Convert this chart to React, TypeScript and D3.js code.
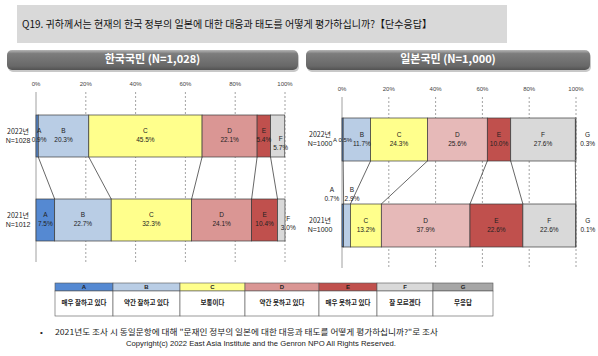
import React from 'react';
import * as d3 from 'd3';

const categories = ['A', 'B', 'C', 'D', 'E', 'F', 'G'];
const categoryLabels = ['매우 잘하고 있다', '약간 잘하고 있다', '보통이다', '약간 못하고 있다', '매우 못하고 있다', '잘 모르겠다', '무응답'];
const rowYears = ['2022년', '2021년'];
const koreaN = ['N=1028', 'N=1012'];
const korea2022 = [0.9, 20.3, 45.5, 22.1, 5.4, 5.7];
const korea2021 = [7.5, 22.7, 32.3, 24.1, 10.4, 3.0];
const japanN = ['N=1000', 'N=1000'];
const japan2022 = [0.5, 11.7, 24.3, 25.6, 10.0, 27.6, 0.3];
const japan2021 = [0.7, 2.9, 13.2, 37.9, 22.6, 22.6, 0.1];
const tickValues = [0, 20, 40, 60, 80, 100];
const titleText = 'Q19. 귀하께서는 현재의 한국 정부의 일본에 대한 대응과 태도를 어떻게 평가하십니까?【단수응답】';
const koreaTitle = '한국국민 (N=1,028)';
const japanTitle = '일본국민 (N=1,000)';
const footnote = '2021년도 조사 시 동일문항에 대해 "문재인 정부의 일본에 대한 대응과 태도를 어떻게 평가하십니까?"로 조사';
const copyright = 'Copyright(c) 2022 East Asia Institute and the Genron NPO All Rights Reserved.';

const FONT = '"Liberation Sans", Arial, "Noto Sans CJK KR", sans-serif';
const KFONT = '"Noto Sans CJK KR", "Liberation Sans", sans-serif';

const colorsKorea = ['#5589d2', '#b9cde5', '#ffff8c', '#da9694', '#c0504d', '#d9d9d9', '#a6a6a6'];
const colorsJapan = ['#5589d2', '#b9cde5', '#ffff8c', '#e6b9b8', '#c0504d', '#d9d9d9', '#a6a6a6'];

type LabelPos = { dx?: number; dy?: number; inline?: boolean; size?: number };

type PanelProps = {
  rows: number[][];
  ns: string[];
  x0: number;
  x1: number;
  tickY: number;
  gridTop: number;
  gridBottom: number;
  barY: number[];
  barH: number;
  yearX: number;
  colors: string[];
  special: Record<string, LabelPos>;
};

function Panel(p: PanelProps) {
  const x = d3.scaleLinear().domain([0, 100]).range([p.x0, p.x1]);
  const stacks = p.rows.map((vals) => {
    let acc = 0;
    return vals.map((v, i) => {
      const s = acc;
      acc += v;
      return { i, v, s, e: acc };
    });
  });
  const nCat = p.rows[0].length;
  return (
    <g>
      {tickValues.map((t) => (
        <g key={t}>
          <text x={x(t)} y={p.tickY} fontSize={6} fill="#444" textAnchor="middle" fontFamily={FONT} dominantBaseline="middle">{t}%</text>
          {t === 0 ? (
            <line x1={x(t)} x2={x(t)} y1={p.gridTop} y2={p.gridBottom} stroke="#a0a0a0" strokeWidth={1} />
          ) : (
            <line x1={x(t)} x2={x(t)} y1={p.gridTop} y2={p.gridBottom} stroke="#8c8c8c" strokeWidth={0.8} strokeDasharray="2,2" />
          )}
        </g>
      ))}
      {d3.range(nCat - 1).map((i) => (
        <line key={'c' + i} x1={x(stacks[0][i].e)} y1={p.barY[0] + p.barH} x2={x(stacks[1][i].e)} y2={p.barY[1]} stroke="#404040" strokeWidth={0.8} />
      ))}
      {stacks.map((row, r) => (
        <g key={'r' + r}>
          {row.map((seg) => (
            <rect key={seg.i} x={x(seg.s)} y={p.barY[r]} width={Math.max(0, x(seg.e) - x(seg.s))} height={p.barH} fill={p.colors[seg.i]} stroke="#3a3a3a" strokeWidth={0.7} />
          ))}
          <text x={p.yearX} y={p.barY[r] + p.barH / 2 - 4} fontSize={7} fill="#222" textAnchor="middle" fontFamily={KFONT} dominantBaseline="middle">{rowYears[r]}</text>
          <text x={p.yearX} y={p.barY[r] + p.barH / 2 + 5} fontSize={7} fill="#222" textAnchor="middle" fontFamily={FONT} dominantBaseline="middle">{p.ns[r]}</text>
          {row.map((seg) => {
            const key = r + '-' + seg.i;
            const sp = p.special[key] || {};
            const cx = (x(seg.s) + x(seg.e)) / 2 + (sp.dx || 0);
            const cy = p.barY[r] + p.barH / 2 + (sp.dy || 0);
            const label = categories[seg.i];
            const pct = seg.v.toFixed(1) + '%';
            const fs = sp.size || 6.5;
            if (sp.inline) {
              return (
                <text key={'l' + seg.i} x={cx} y={cy} fontSize={fs} fill="#222" textAnchor="middle" fontFamily={FONT} dominantBaseline="middle">{label + ' ' + pct}</text>
              );
            }
            return (
              <g key={'l' + seg.i}>
                <text x={cx} y={cy - 4.5} fontSize={fs} fill="#222" textAnchor="middle" fontFamily={FONT} dominantBaseline="middle">{label}</text>
                <text x={cx} y={cy + 4.5} fontSize={fs} fill="#222" textAnchor="middle" fontFamily={FONT} dominantBaseline="middle">{pct}</text>
              </g>
            );
          })}
        </g>
      ))}
    </g>
  );
}

function Pill({ x, y, w, h, text }: { x: number; y: number; w: number; h: number; text: string }) {
  return (
    <g>
      <rect x={x + 1} y={y + 2} width={w} height={h} rx={5} fill="#c8c8c8" />
      <rect x={x} y={y} width={w} height={h} rx={5} fill="url(#pillGrad)" />
      <text x={x + w / 2} y={y + h / 2 + 0.5} fontSize={11} fontWeight="bold" fill="#fff" textAnchor="middle" dominantBaseline="middle" fontFamily={KFONT}>{text}</text>
    </g>
  );
}

export default function App() {
  const legendX = [55, 113, 180, 245, 319, 377, 433, 493];
  return (
    <svg width={598} height={356} style={{ position: 'absolute', left: 0, top: 0, background: '#fff' }}>
      <defs>
        <linearGradient id="pillGrad" x1="0" y1="0" x2="0" y2="1">
          <stop offset="0" stopColor="#b5b5b5" />
          <stop offset="0.18" stopColor="#7d7d7d" />
          <stop offset="0.8" stopColor="#686868" />
          <stop offset="1" stopColor="#525252" />
        </linearGradient>
      </defs>
      <rect x={17} y={5} width={490} height={38} fill="#d9d9d9" />
      <text x={22} y={25} fontSize={10.2} fill="#111" dominantBaseline="middle" fontFamily={KFONT} textLength={410} lengthAdjust="spacingAndGlyphs">{titleText}</text>

      <Pill x={7} y={50} w={291} h={20} text={koreaTitle} />
      <Pill x={306} y={50} w={284} h={20} text={japanTitle} />

      <Panel
        rows={[korea2022, korea2021]}
        ns={koreaN}
        x0={36}
        x1={285}
        tickY={84}
        gridTop={92}
        gridBottom={262}
        barY={[115, 199]}
        barH={42}
        yearX={18}
        colors={colorsKorea}
        special={{ '0-0': { dx: 2 }, '0-5': { dx: 3, dy: 8 }, '1-5': { dx: 7, dy: 4 } }}
      />
      <Panel
        rows={[japan2022, japan2021]}
        ns={japanN}
        x0={342}
        x1={576}
        tickY={89}
        gridTop={97}
        gridBottom={268}
        barY={[118, 204]}
        barH={43}
        yearX={320}
        colors={colorsJapan}
        special={{
          '0-0': { dx: 0, dy: 1, inline: true, size: 6 },
          '0-1': { dx: 5 },
          '0-6': { dx: 12 },
          '1-0': { dx: -11, dy: -31 },
          '1-1': { dx: 5, dy: -31 },
          '1-6': { dx: 12 },
        }}
      />

      {categories.map((c, i) => (
        <g key={c}>
          <rect x={legendX[i]} y={283} width={legendX[i + 1] - legendX[i]} height={8} fill={colorsKorea[i]} stroke="#555" strokeWidth={0.6} />
          <text x={(legendX[i] + legendX[i + 1]) / 2} y={287.3} fontSize={6} fontWeight="bold" fill="#222" textAnchor="middle" dominantBaseline="middle" fontFamily={FONT}>{c}</text>
          <rect x={legendX[i]} y={291} width={legendX[i + 1] - legendX[i]} height={25} fill="#fff" stroke="#555" strokeWidth={0.6} />
          <text x={(legendX[i] + legendX[i + 1]) / 2} y={303.5} fontSize={6.5} fontWeight="bold" fill="#222" textAnchor="middle" dominantBaseline="middle" fontFamily={KFONT}>{categoryLabels[i]}</text>
        </g>
      ))}

      <text x={40} y={333} fontSize={8} fill="#222" dominantBaseline="middle" fontFamily={FONT}>•</text>
      <text x={55} y={333} fontSize={8} fill="#222" dominantBaseline="middle" fontFamily={KFONT} textLength={383} lengthAdjust="spacingAndGlyphs">{footnote}</text>
      <text x={261} y={343.5} fontSize={7.8} fill="#222" textAnchor="middle" dominantBaseline="middle" fontFamily={FONT} textLength={270} lengthAdjust="spacingAndGlyphs">{copyright}</text>
    </svg>
  );
}
